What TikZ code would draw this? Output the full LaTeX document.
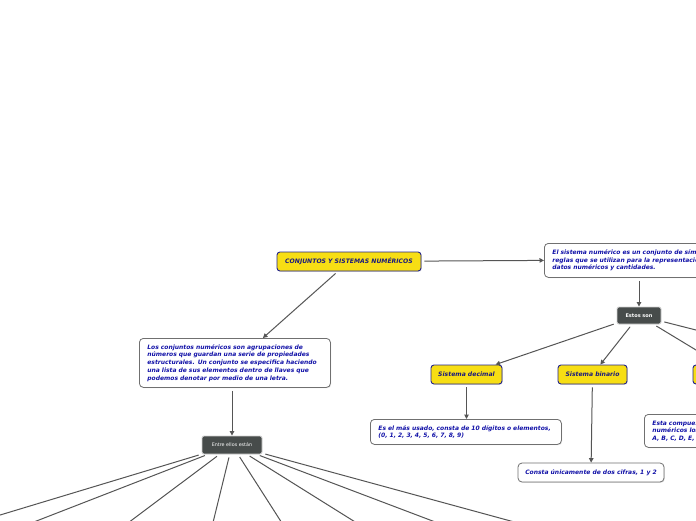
\documentclass[tikz,border=0pt]{standalone}
\usepackage{fontspec}
\setmainfont{DejaVu Sans}
\usetikzlibrary{shadows,arrows.meta}
\definecolor{ybox}{HTML}{F7DE14}
\definecolor{navy}{HTML}{24248A}
\definecolor{ntext}{HTML}{1A1A7E}
\definecolor{btext}{HTML}{1212A8}
\definecolor{dbox}{HTML}{474C4B}
\definecolor{conn}{HTML}{555555}
\definecolor{wbord}{HTML}{707070}
\tikzset{
  yellowbox/.style={draw=navy, line width=0.9pt, fill=ybox, rounded corners=3pt, inner sep=0pt,
    font=\fontsize{6.1}{7}\selectfont\bfseries\itshape, text=ntext,
    drop shadow={shadow xshift=0.8pt, shadow yshift=-0.8pt, opacity=0.25}},
  whitebox/.style={draw=wbord, line width=0.8pt, fill=white, rounded corners=4pt, inner xsep=8pt, inner ysep=0pt,
    align=left, font=\fontsize{6}{7.7}\selectfont\bfseries\itshape, text=btext,
    drop shadow={shadow xshift=0.8pt, shadow yshift=-0.8pt, opacity=0.25}},
  darkbox/.style={draw=gray!35, line width=0.9pt, fill=dbox, rounded corners=2pt, inner sep=0pt,
    font=\fontsize{4.8}{5.5}\selectfont, text=white},
  conarrow/.style={draw=conn, line width=1pt, -{Triangle[length=4.5pt,width=4.5pt]}, shorten <=3pt},
  conline/.style={draw=conn, line width=1pt, shorten <=3pt},
}
\begin{document}
\begin{tikzpicture}[x=1pt, y=-1pt]
\useasboundingbox (0,0) rectangle (696,520);
\clip (0,0) rectangle (696,520);
\fill[white] (0,0) rectangle (696,520);

\node[yellowbox, minimum width=144pt, minimum height=19pt] (title) at (349,261.5) {CONJUNTOS Y SISTEMAS NUMÉRICOS};

\node[whitebox, anchor=north west, text width=200pt, minimum height=34pt] (sysdef) at (544,243)
  {El sistema numérico es un conjunto de símbolos y\\reglas que se utilizan para la representación de\\datos numéricos y cantidades.};

\node[whitebox, anchor=north west, text width=175pt, minimum height=49pt] (conjdef) at (139,338)
  {Los conjuntos numéricos son agrupaciones de\\números que guardan una serie de propiedades\\estructurales. Un conjunto se especifica haciendo\\una lista de sus elementos dentro de llaves que\\podemos denotar por medio de una letra.};

\node[darkbox, font=\fontsize{5}{5.5}\selectfont\bfseries, minimum width=44pt, minimum height=17pt] (estos) at (639,315.5) {Estos son};

\node[yellowbox, minimum width=71pt, minimum height=19pt] (decimal) at (466.5,374.5) {Sistema decimal};
\node[yellowbox, minimum width=69pt, minimum height=19pt] (binario) at (592.5,374.5) {Sistema binario};
\node[yellowbox, minimum width=87pt, minimum height=19pt] (hexa) at (736.5,374.5) {Sistema hexadecimal};

\node[whitebox, anchor=north west, text width=175pt, minimum height=25pt] (esmas) at (370,419)
  {Es el más usado, consta de 10 dígitos o elementos,\\(0, 1, 2, 3, 4, 5, 6, 7, 8, 9)};

\node[whitebox, align=center, inner xsep=0pt, minimum width=146pt, minimum height=19pt] (consta) at (591,472.5)
  {Consta únicamente de dos cifras, 1 y 2};

\node[whitebox, anchor=north west, text width=220pt, minimum height=33pt] (hexdef) at (644,414)
  {Esta compuesto por 16 símbolos, 10 dígitos\\numéricos los mismos del sistema decimal y 6 letras\\A, B, C, D, E, F};

\node[darkbox, minimum width=60pt, minimum height=18pt] (entre) at (232,445) {Entre ellos están};

\coordinate (otro) at (790,353.9);
\coordinate (e1) at (-33,525);
\coordinate (e2) at (26.1,525);
\coordinate (e3) at (125.3,525);
\coordinate (e4) at (212.4,525);
\coordinate (e5) at (283.2,525);
\coordinate (e6) at (360,525);
\coordinate (e7) at (443.2,525);
\coordinate (e8) at (525.3,525);

\draw[conarrow] (title) -- (sysdef.west);
\draw[conarrow] (title) -- (conjdef);
\draw[conarrow] (sysdef.south -| estos.north) -- (estos.north);
\draw[conarrow] (estos) -- (decimal);
\draw[conarrow] (estos) -- (binario);
\draw[conarrow] (estos) -- (hexa);
\draw[conline] (estos) -- (otro);
\draw[conarrow] (decimal) -- (decimal |- esmas.north);
\draw[conarrow] (binario) -- (consta);
\draw[conarrow] (hexa) -- (hexa |- hexdef.north);
\draw[conarrow] (conjdef.south -| entre.north) -- (entre.north);
\foreach \i in {1,...,8} { \draw[conline] (entre) -- (e\i); }
\end{tikzpicture}
\end{document}
